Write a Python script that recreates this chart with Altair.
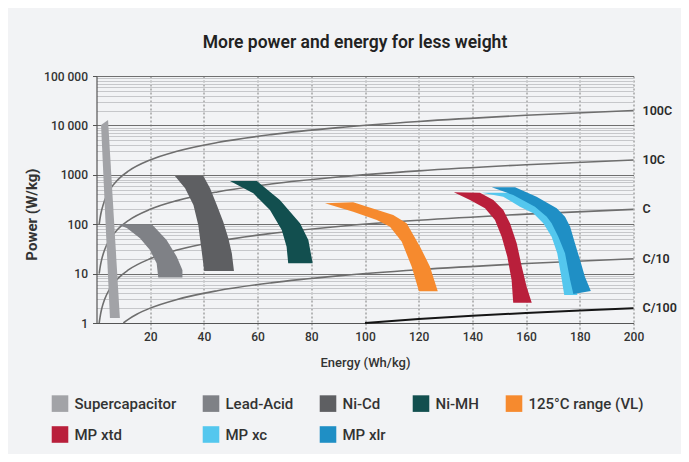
import altair as alt
import pandas as pd

FONT = "Roboto"

# ---------------- data ----------------
shape_names = ["Supercapacitor", "Lead-Acid", "Ni-Cd", "Ni-MH", "125°C range (VL)",
               "MP xtd", "MP xc", "MP xlr"]
shape_colors = ["#a2a3a7", "#7f8186", "#5e5f62", "#124f4f", "#f68a2e",
                "#b91f3b", "#54c7ee", "#1f8fc5"]

super_e = [1.7, 4.3, 8.7, 5.0]
super_p = [10200, 12900, 1.26, 1.26]
lead_e = [7.5, 20.6, 26.1, 29.9, 32.0, 32.0, 23.0, 22.4, 19.9, 16.2, 11.3]
lead_p = [100, 100, 48, 22, 11.8, 8.3, 8.3, 16.2, 30, 52, 84]
nicd_e = [29.2, 39.8, 42.3, 44.8, 47.2, 49.1, 50.4, 51.2, 40.1, 39.2, 37.9, 36.1, 33.0]
nicd_p = [946, 946, 533, 245, 112, 51.8, 25.8, 11.3, 11.3, 27.8, 96.4, 245, 533]
nimh_e = [49.7, 59.7, 68.3, 75.8, 78.9, 80.5, 71.4, 70.8, 69.0, 64.6, 58.4]
nimh_p = [750, 750, 309, 104, 48, 16.2, 16.2, 35, 76, 194, 422]
vl_e = [85.1, 95.6, 110.5, 115.5, 120.5, 124.2, 127.1, 120.1, 117.4, 113.7, 109.3, 104.4, 95.6]
vl_p = [265, 277, 154, 104, 35, 13.8, 4.4, 4.4, 13.8, 44, 89, 122, 179]
xtd_e = [133.1, 142.8, 147.8, 151.5, 154.0, 156.5, 158.4, 160.2, 162.1,
         155.2, 154.6, 153.0, 150.9, 148.4, 144.7, 139.1]
xtd_p = [442, 434, 309, 194, 104, 41, 13.8, 5.43, 2.58,
         2.58, 7.42, 22, 55.8, 122, 210, 309]
xc_e = [143.5, 154.5, 156.7, 164.8, 169.2, 171.0, 173.5, 176.0, 177.9, 179.1,
        174.2, 173.3, 171.6, 169.5, 166.4, 162.7, 157.7, 151.5]
xc_p = [434, 434, 390, 226, 142, 104, 55.8, 25.8, 7.42, 3.69,
        3.69, 7.42, 25.8, 55.8, 104, 166, 226, 360]
xlr_e = [147.2, 155.9, 163.9, 171.4, 174.5, 176.4, 178.2, 180.1, 181.9, 184.1,
         177.6, 176.4, 174.5, 172.0, 169.5, 167.7, 163.3, 155.2]
xlr_p = [558, 558, 360, 210, 142, 89, 41, 18.8, 8.65, 4.44,
         3.87, 7.42, 25.8, 55.8, 104, 142, 226, 390]

shape_e = [super_e, lead_e, nicd_e, nimh_e, vl_e, xtd_e, xc_e, xlr_e]
shape_p = [super_p, lead_p, nicd_p, nimh_p, vl_p, xtd_p, xc_p, xlr_p]

# constant-rate curves
curve_names = ["100C", "10C", "C", "C/10", "C/100"]
c100_e = [1, 1.5, 2, 3, 5, 8, 12, 20, 30, 45, 65, 90, 120, 160, 200]
c100_p = [100, 150, 200, 300, 500, 800, 1200, 2000, 3000, 4500, 6500, 9000, 12000, 16000, 20000]
c10_e = [1, 1.5, 2, 3, 5, 8, 12, 20, 30, 45, 65, 90, 120, 160, 200]
c10_p = [10, 15, 20, 30, 50, 80, 120, 200, 300, 450, 650, 900, 1200, 1600, 2000]
c1_e = [1, 1.5, 2, 3, 5, 8, 12, 20, 30, 45, 65, 90, 120, 160, 200]
c1_p = [1, 1.5, 2, 3, 5, 8, 12, 20, 30, 45, 65, 90, 120, 160, 200]
c01_e = [10, 12, 15, 20, 30, 45, 65, 90, 120, 160, 200]
c01_p = [1, 1.2, 1.5, 2, 3, 4.5, 6.5, 9, 12, 16, 20]
c001_e = [100, 120, 140, 160, 180, 200]
c001_p = [1, 1.2, 1.4, 1.6, 1.8, 2]
curve_e = [c100_e, c10_e, c1_e, c01_e, c001_e]
curve_p = [c100_p, c10_p, c1_p, c01_p, c001_p]

label_e = [200, 200, 200, 200, 200]
label_p = [20000, 2000, 200, 20, 2]

x_ticks = [20, 40, 60, 80, 100, 120, 140, 160, 180, 200]
y_decades = [1, 10, 100, 1000, 10000, 100000]
y_decade_labels = ["1", "10", "100", "1000", "10 000", "100 000"]
y_minor_mult = [2, 3, 4, 5, 6, 7, 8, 9]

# ---------------- tables ----------------
shape_rows = []
for n, es, ps in zip(shape_names, shape_e, shape_p):
    for i, (e, p) in enumerate(zip(es, ps)):
        shape_rows.append({"series": n, "idx": i, "energy": e, "power": p})
shapes_df = pd.DataFrame(shape_rows)

curve_rows = []
for n, es, ps in zip(curve_names, curve_e, curve_p):
    for i, (e, p) in enumerate(zip(es, ps)):
        curve_rows.append({"curve": n, "idx": i, "energy": e, "power": p})
curves_df = pd.DataFrame(curve_rows)

labels_df = pd.DataFrame({"curve": curve_names, "energy": label_e, "power": label_p})

y_values = sorted(set(y_decades + [m * d for d in y_decades[:-1] for m in y_minor_mult]))
decade_test = "indexof([" + ",".join(str(d) for d in y_decades) + "], datum.value) >= 0"
label_expr = "''"
for d, lab in zip(y_decades, y_decade_labels):
    label_expr = f"datum.value == {d} ? '{lab}' : ({label_expr})"

x_scale = alt.Scale(domain=[0, 200], nice=False)
y_scale = alt.Scale(type="log", domain=[1, 100000], nice=False)

x_axis = alt.Axis(
    values=x_ticks, grid=True, gridDash=[2, 2], gridColor="#7a7a7a", gridWidth=1,
    domainColor="#555555", domainWidth=1.2, tickColor="#7a7a7a", tickDash=[2, 2], tickSize=6,
    labelFont=FONT, labelFontSize=12, labelFontWeight=500, labelColor="#333333", labelPadding=2,
    labelFlush=False,
    title="Energy (Wh/kg)", titleFont=FONT, titleFontSize=13, titleFontWeight=500,
    titleColor="#333333", titleY=39, titleBaseline="middle",
)
y_axis = alt.Axis(
    values=y_values, grid=True,
    gridColor={"condition": {"test": decade_test, "value": "#6f6f6f"}, "value": "#c6c7ca"},
    gridWidth=1,
    tickColor={"condition": {"test": decade_test, "value": "#555555"}, "value": "transparent"},
    tickSize=4, domainColor="#555555", domainWidth=1.2,
    labelExpr=label_expr, labelFont=FONT, labelFontSize=12, labelFontWeight=500,
    labelColor="#333333", labelPadding=5,
    title="Power (W/kg)", titleFont=FONT, titleFontSize=15, titleFontWeight=700,
    titleColor="#333333", titleX=-65.5, titleY=138, titleAngle=-90,
    titleAlign="center", titleBaseline="middle",
)

X = alt.X("energy:Q", scale=x_scale, axis=x_axis)
Y = alt.Y("power:Q", scale=y_scale, axis=y_axis)
Xn = alt.X("energy:Q", scale=x_scale)
Yn = alt.Y("power:Q", scale=y_scale)

gray_curves = alt.Chart(curves_df).transform_filter(
    alt.datum.curve != "C/100"
).mark_line(interpolate="monotone", strokeWidth=1.6, color="#6e6e6e").encode(
    x=X, y=Y, detail="curve:N", order="idx:Q"
)
black_curve = alt.Chart(curves_df).transform_filter(
    alt.datum.curve == "C/100"
).mark_line(interpolate="monotone", strokeWidth=2, color="#151515").encode(
    x=Xn, y=Yn, order="idx:Q"
)

legend = alt.Legend(
    title=None, orient="none", legendX=-45, legendY=319, columns=5, columnPadding=26,
    rowPadding=14, direction="horizontal",
    symbolType="square", symbolSize=275, symbolStrokeWidth=0, symbolOpacity=1,
    labelFont=FONT, labelFontSize=15, labelFontWeight=500, labelColor="#333333",
    labelOffset=6, padding=0, labelLimit=300,
)
fill_scale = alt.Scale(domain=shape_names, range=shape_colors)

shape_layers = []
for n in shape_names:
    shape_layers.append(
        alt.Chart(shapes_df).transform_filter(alt.datum.series == n)
        .mark_line(interpolate="linear-closed", strokeWidth=0)
        .encode(x=Xn, y=Yn, order="idx:Q",
                fill=alt.Fill("series:N", scale=fill_scale, legend=legend))
    )

labels = alt.Chart(labels_df).mark_text(
    align="left", baseline="middle", dx=9, font=FONT, fontSize=12.5, fontWeight=600,
    color="#2a2a2a"
).encode(x=Xn, y=Yn, text="curve:N")

chart = alt.layer(gray_curves, black_curve, *shape_layers, labels).properties(
    width=537, height=247,
    padding={"left": 88.5, "top": 68, "right": 47.5, "bottom": 131},
    autosize=alt.AutoSizeParams(type="none"),
    background="#f2f3f5",
    title=alt.TitleParams(
        "More power and energy for less weight", font=FONT, fontSize=17.5, fontWeight=600,
        color="#222222", anchor="middle", dx=-10, offset=19,
    ),
).configure_view(stroke=None)

chart.save("out.html", embed_options={"renderer": "svg", "actions": False})
